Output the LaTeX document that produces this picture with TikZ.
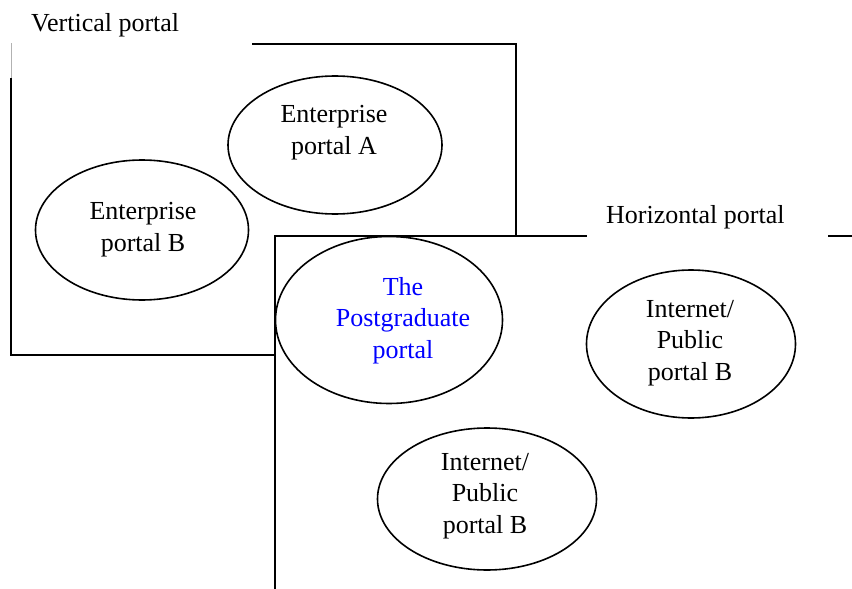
\documentclass[tikz,border=0pt]{standalone}
\usepackage{fontspec}
\setmainfont{Liberation Serif}
\usetikzlibrary{shapes.geometric}
\tikzset{
  frame/.style={line width=1.6pt, black},
  portal/.style={draw, ellipse, line width=1.6pt, inner sep=0pt},
  txt/.style={align=center, font=\fontsize{26}{31.5}\selectfont, inner sep=0pt, anchor=base},
  lbl/.style={font=\fontsize{26}{31.5}\selectfont, inner sep=0pt, anchor=base west}
}
\begin{document}
\begin{tikzpicture}[x=1pt,y=-1pt]
\useasboundingbox (0,0) rectangle (852,589);
% vertical portal frame
\coordinate (v1) at (11,43);
\coordinate (v2) at (11,78);
\coordinate (v3) at (11,355);
\coordinate (v4) at (275,355);
\coordinate (v5) at (252,44);
\coordinate (v6) at (516,44);
\coordinate (v7) at (516,236);
\draw[gray!60, line width=0.6pt] (v1) -- (v2);
\draw[frame] (v2) -- (v3) -- (v4);
\draw[frame] (v5) -- (v6) -- (v7);
% horizontal portal frame
\coordinate (h1) at (275,589);
\coordinate (h2) at (275,236);
\coordinate (h3) at (587,236);
\coordinate (h4) at (828,236);
\coordinate (h5) at (852,236);
\draw[frame] (h1) -- (h2) -- (h3);
\draw[frame] (h4) -- (h5);
\node[lbl] (vl) at (31,31) {Vertical portal};
\node[lbl] (hl) at (606,223) {Horizontal portal};
% ellipses
\node[portal, minimum width=214pt, minimum height=138pt] (A) at (335,145) {};
\node[portal, minimum width=213pt, minimum height=140pt] (B) at (142,230) {};
\node[portal, minimum width=227pt, minimum height=167pt] (P) at (389,320) {};
\node[portal, minimum width=209pt, minimum height=148pt] (R) at (691,344) {};
\node[portal, minimum width=219pt, minimum height=142pt] (D) at (487,499) {};
% texts (anchored at the baseline of the last line)
\node[txt] (At) at (334,154) {Enterprise\\portal A};
\node[txt] (Bt) at (143,251) {Enterprise\\portal B};
\node[txt, text=blue] (Pt) at (403,358) {The\\Postgraduate\\portal};
\node[txt] (Rt) at (690,380) {Internet/\\Public\\portal B};
\node[txt] (Dt) at (485,533) {Internet/\\Public\\portal B};
\end{tikzpicture}
\end{document}
